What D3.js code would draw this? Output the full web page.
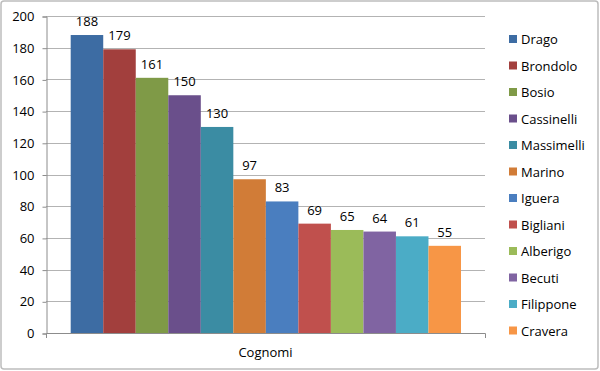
<!DOCTYPE html>
<html lang="it">
<head>
<meta charset="utf-8">
<title>Cognomi</title>
<script src="https://d3js.org/d3.v7.js"></script>
<style>
  body { margin: 0; background: #fff; }
  text { font-family: "Open Sans", "Liberation Sans", sans-serif; fill: #000; }
</style>
</head>
<body>
<script>
const w = 600;
const h = 371;

// data
const names = ["Drago", "Brondolo", "Bosio", "Cassinelli", "Massimelli", "Marino",
               "Iguera", "Bigliani", "Alberigo", "Becuti", "Filippone", "Cravera"];
const counts = [188, 179, 161, 150, 130, 97, 83, 69, 65, 64, 61, 55];
const colors = ["#3d6ca3", "#a23f3d", "#7f9a47", "#6a4f8b", "#3b8ca3", "#d17c37",
                "#4a7ebf", "#c0504d", "#9bbb59", "#8064a2", "#4bacc6", "#f79646"];
const yTicks = [0, 20, 40, 60, 80, 100, 120, 140, 160, 180, 200];
const category = "Cognomi";

const plotLeft = 46, plotRight = 485, plotTop = 16, plotBottom = 333;

const svg = d3.select("body").append("svg")
  .attr("width", w)
  .attr("height", h);

svg.append("rect")
  .attr("x", 1).attr("y", 1)
  .attr("width", w - 3).attr("height", h - 3)
  .attr("rx", 3)
  .attr("fill", "white")
  .attr("stroke", "#bdbdbd")
  .attr("stroke-width", 1.5);

const y = d3.scaleLinear().domain([0, 200]).range([plotBottom, plotTop]);

const x = d3.scaleBand()
  .domain(names)
  .range([70.7, 461])
  .padding(0);

// gridlines
svg.selectAll(".grid")
  .data(yTicks.filter(d => d > 0))
  .enter().append("line")
  .attr("x1", plotLeft).attr("x2", plotRight)
  .attr("y1", d => Math.round(y(d)) + 0.5)
  .attr("y2", d => Math.round(y(d)) + 0.5)
  .attr("stroke", "#b3b3b3");

// y axis
const yAxis = d3.axisLeft(y).tickValues(yTicks).tickSize(4).tickPadding(8);
const gy = svg.append("g")
  .attr("transform", `translate(${plotLeft + 0.5},0.5)`)
  .call(yAxis);
gy.select(".domain").attr("stroke", "#8c8c8c");
gy.selectAll(".tick line").attr("stroke", "#8c8c8c");
gy.selectAll(".tick text").attr("font-size", 13).attr("fill", "#000")
  .style("font-family", "'Open Sans', sans-serif");

// x axis line with end ticks
svg.append("path")
  .attr("d", `M${plotLeft + 0.5},${plotBottom + 5}V${plotBottom + 0.5}H${plotRight + 0.5}V${plotBottom + 5}`)
  .attr("fill", "none")
  .attr("stroke", "#8c8c8c");

svg.append("text")
  .attr("x", (plotLeft + plotRight) / 2)
  .attr("y", 357)
  .attr("text-anchor", "middle")
  .attr("font-size", 13)
  .text(category);

// bars
svg.selectAll(".bar")
  .data(names)
  .enter().append("rect")
  .attr("x", d => x(d))
  .attr("y", (d, i) => y(counts[i]))
  .attr("width", x.bandwidth())
  .attr("height", (d, i) => plotBottom - y(counts[i]))
  .attr("fill", (d, i) => colors[i]);

// value labels
svg.selectAll(".val")
  .data(names)
  .enter().append("text")
  .attr("x", d => x(d) + x.bandwidth() / 2)
  .attr("y", (d, i) => y(counts[i]) - 9)
  .attr("text-anchor", "middle")
  .attr("font-size", 13)
  .text((d, i) => counts[i]);

// legend
const leg = svg.selectAll(".leg")
  .data(names)
  .enter().append("g")
  .attr("transform", (d, i) => `translate(509,${39 + i * 26.5})`);

leg.append("rect")
  .attr("x", 0).attr("y", -4)
  .attr("width", 8).attr("height", 8)
  .attr("fill", (d, i) => colors[i]);

leg.append("text")
  .attr("x", 12)
  .attr("y", 5)
  .attr("font-size", 13)
  .text(d => d);
</script>
</body>
</html>
